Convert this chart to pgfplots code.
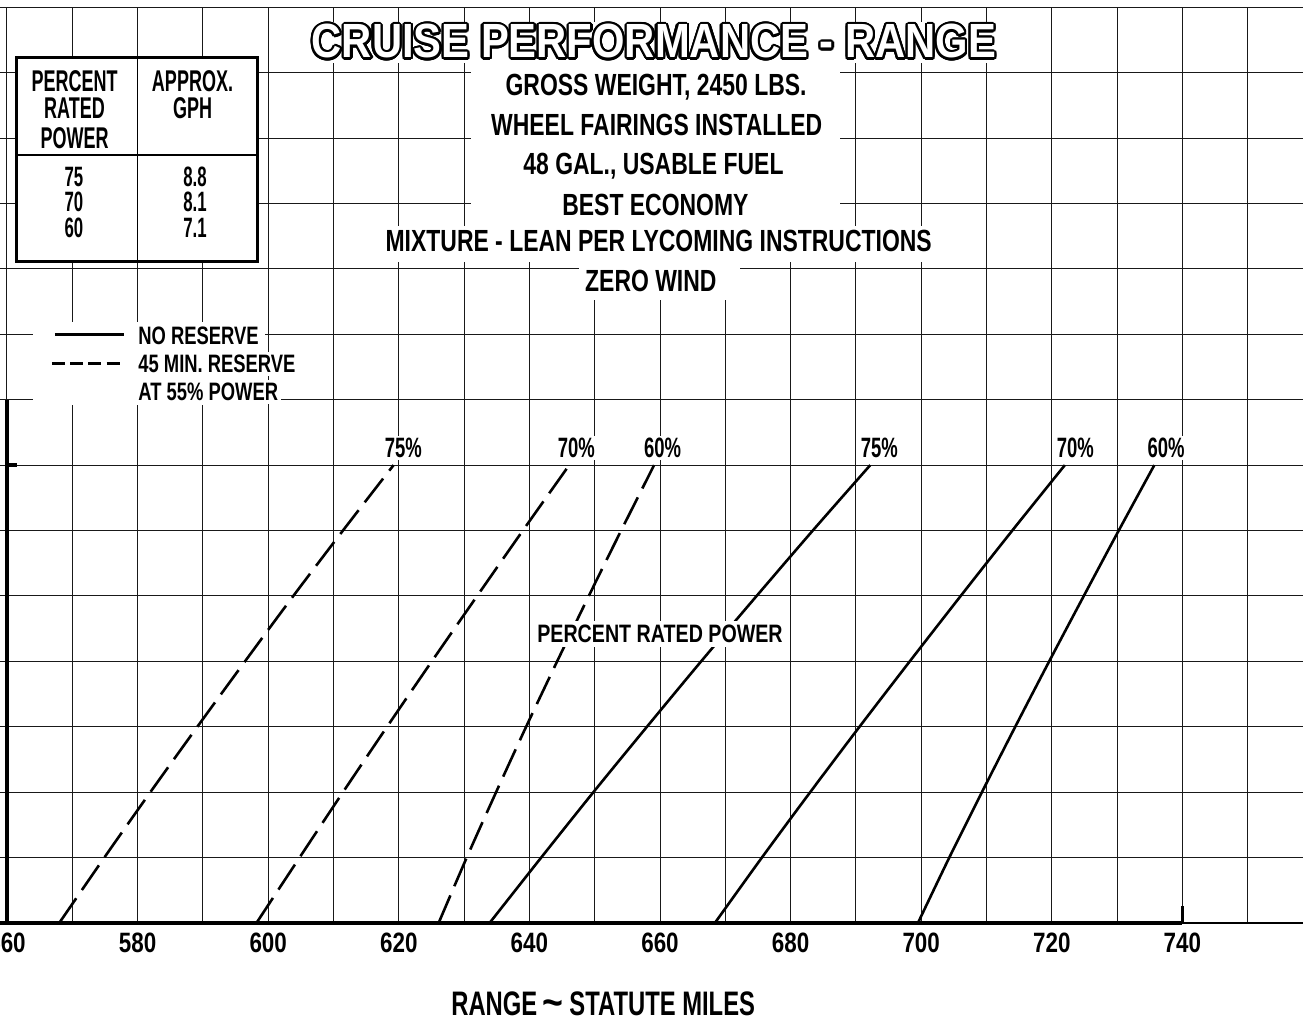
\documentclass[border=0pt]{standalone}
\usepackage{fontspec}
\setmainfont{Liberation Sans}
\usepackage{graphicx}
\usepackage{pgfplots}
\pgfplotsset{compat=1.18}
\usepackage[copies]{contour}
\contourlength{1.1pt}
\contournumber{24}
\newfontfamily\fTitle[FakeStretch=0.87]{Liberation Sans}
\newfontfamily\fSub[FakeStretch=0.75]{Liberation Sans}
\newfontfamily\fTab[FakeStretch=0.6]{Liberation Sans}
\newfontfamily\fTick[FakeStretch=0.8]{Liberation Sans}
\newfontfamily\fLab[FakeStretch=0.7]{Liberation Sans}
\newfontfamily\fLeg[FakeStretch=0.73]{Liberation Sans}
\newfontfamily\fPct[FakeStretch=0.78]{Liberation Sans}
\newfontfamily\fCurve[FakeStretch=0.66]{Liberation Sans}
\begin{document}
\begin{tikzpicture}
\begin{axis}[
  scale only axis, width=651.5pt, height=461.5pt,
  xmin=558.93, xmax=758.47, ymin=0, ymax=14.11,
  axis line style={draw=none},
  xtick={560,580,...,740},
  xticklabels={560,580,600,620,640,660,680,700,720,740},
  minor xtick={570,590,...,750},
  ytick={0,1,...,14}, yticklabel={},
  grid=both,
  major grid style={black!90, line width=0.5pt},
  minor grid style={black!90, line width=0.5pt},
  major tick length=0pt, minor tick length=0pt,
  xticklabel style={font=\fTick\bfseries\fontsize{14}{14}\selectfont, anchor=center, yshift=-10pt},
  clip=false,
]
% mask above the top grid line
\fill[white] (axis cs:558.93,14.01) rectangle (axis cs:758.47,14.2);
% thick axes
\draw[line width=1.6pt] (axis cs:558.93,0) -- (axis cs:740,0);
\draw[line width=1.0pt] (axis cs:740,0) -- (axis cs:758.47,0);
\draw[line width=1.6pt] (axis cs:740,0) -- (axis cs:740,0.26);
\draw[line width=1.6pt] (axis cs:560,0) -- (axis cs:560,8);
\draw[line width=1.6pt] (axis cs:560,7) -- (axis cs:561.6,7);
% white masks behind the heading block
\fill[white] (axis cs:605.64,13.15) rectangle (axis cs:712.53,13.78);
\fill[white] (axis cs:631.06,10.63) rectangle (axis cs:687.57,13.20);
\fill[white] (axis cs:617.58,10.11) rectangle (axis cs:702.11,10.66);
\fill[white] (axis cs:647.60,9.53) rectangle (axis cs:672.30,10.11);
% legend mask
\fill[white] (axis cs:563.98,7.92) rectangle (axis cs:599.51,9.19);
% table box
\fill[white] (axis cs:561.53,10.11) rectangle (axis cs:598.29,13.23);
\draw[line width=1.5pt] (axis cs:561.53,10.11) rectangle (axis cs:598.29,13.23);
\draw[line width=0.8pt] (axis cs:580.0,10.11) -- (axis cs:580.0,13.23);
\draw[line width=1.0pt] (axis cs:561.53,11.74) -- (axis cs:598.29,11.74);

% curves: 45 min reserve (dashed)
\addplot[black, line width=1.3pt, smooth, tension=0.5, dash pattern=on 15pt off 5pt]
  coordinates {(568.0,0) (574.9,1) (581.95,2) (589.15,3) (596.45,4) (603.85,5) (611.45,6) (619.2,7)};
\addplot[black, line width=1.3pt, smooth, tension=0.5, dash pattern=on 15pt off 5pt]
  coordinates {(598.2,0) (604.8,1) (611.45,2) (618.2,3) (625.05,4) (632.0,5) (639.0,6) (646.1,7)};
\addplot[black, line width=1.3pt, smooth, tension=0.5, dash pattern=on 15pt off 5pt]
  coordinates {(626.1,0) (630.4,1) (634.9,2) (639.5,3) (644.25,4) (649.1,5) (654.05,6) (659.1,7)};
% curves: no reserve (solid)
\addplot[black, line width=1.3pt, smooth, tension=0.5]
  coordinates {(633.9,0) (641.8,1) (649.8,2) (658.0,3) (666.3,4) (674.8,5) (683.4,6) (692.2,7)};
\addplot[black, line width=1.3pt, smooth, tension=0.5]
  coordinates {(668.4,0) (675.6,1) (683.0,2) (690.55,3) (698.25,4) (706.05,5) (713.95,6) (722.0,7)};
\addplot[black, line width=1.3pt, smooth, tension=0.5]
  coordinates {(699.5,0) (704.3,1) (709.3,2) (714.4,3) (719.6,4) (724.9,5) (730.25,6) (735.7,7)};

% legend samples
\draw[line width=1.5pt] (axis cs:567.35,8.99) -- (axis cs:577.92,8.99);
\draw[line width=1.5pt, dash pattern=on 6.5pt off 2.6pt] (axis cs:566.89,8.56) -- (axis cs:577.92,8.56);
\node[anchor=west, fill=white, inner xsep=1.5pt, inner ysep=1.5pt, font=\fLeg\bfseries\fontsize{12.6}{12.6}\selectfont] at (axis cs:579.6,8.976) {NO RESERVE};
\node[anchor=west, fill=white, inner xsep=1.5pt, inner ysep=1.5pt, font=\fLeg\bfseries\fontsize{12.6}{12.6}\selectfont] at (axis cs:579.6,8.55) {45 MIN. RESERVE};
\node[anchor=west, fill=white, inner xsep=1.5pt, inner ysep=1.5pt, font=\fLeg\bfseries\fontsize{12.6}{12.6}\selectfont] at (axis cs:579.6,8.12) {AT 55\% POWER};

% table text
\begin{scope}[every node/.style={font=\fTab\bfseries\fontsize{15}{15}\selectfont, inner sep=0pt}]
\node at (axis cs:570.34,12.87) {PERCENT};
\node at (axis cs:570.34,12.46) {RATED};
\node at (axis cs:570.34,12.00) {POWER};
\node at (axis cs:588.41,12.87) {APPROX.};
\node at (axis cs:588.41,12.46) {GPH};
\end{scope}
\begin{scope}[every node/.style={font=\fTab\bfseries\fontsize{14}{14}\selectfont, inner sep=0pt}]
\node at (axis cs:570.26,11.41) {75};
\node at (axis cs:570.26,11.02) {70};
\node at (axis cs:570.26,10.63) {60};
\node at (axis cs:588.8,11.41) {8.8};
\node at (axis cs:588.8,11.02) {8.1};
\node at (axis cs:588.8,10.63) {7.1};
\end{scope}

% title
\node[text=white, inner sep=0pt, font=\fTitle\bfseries\fontsize{24}{24}\selectfont] at (axis cs:659.08,13.46) {\contour{black}{CRUISE PERFORMANCE - RANGE}};
\begin{scope}[every node/.style={font=\fSub\bfseries\fontsize{15.3}{15.3}\selectfont, inner sep=1.5pt, fill=white}]
\node at (axis cs:659.4,12.78) {GROSS WEIGHT, 2450 LBS.};
\node at (axis cs:659.5,12.20) {WHEEL FAIRINGS INSTALLED};
\node at (axis cs:659.0,11.57) {48 GAL., USABLE FUEL};
\node at (axis cs:659.3,10.97) {BEST ECONOMY};
\node at (axis cs:659.8,10.42) {MIXTURE - LEAN PER LYCOMING INSTRUCTIONS};
\node at (axis cs:658.6,9.82) {ZERO WIND};
\end{scope}

% curve labels
\begin{scope}[every node/.style={font=\fCurve\bfseries\fontsize{14}{14}\selectfont, inner sep=1pt, fill=white}]
\node at (axis cs:620.7,7.26) {75\%};
\node at (axis cs:647.2,7.26) {70\%};
\node at (axis cs:660.4,7.26) {60\%};
\node at (axis cs:693.6,7.26) {75\%};
\node at (axis cs:723.6,7.26) {70\%};
\node at (axis cs:737.5,7.26) {60\%};
\end{scope}
\node[fill=white, inner sep=2pt, font=\fPct\bfseries\fontsize{12.6}{12.6}\selectfont] at (axis cs:660.0,4.42) {PERCENT RATED POWER};

% axis title
\node[font=\fLab\bfseries\fontsize{17}{17}\selectfont] at (axis cs:651.3,-1.24) {RANGE\,\raisebox{-0.1ex}{\scalebox{1.5}[1.2]{\textasciitilde}}\,STATUTE MILES};
\end{axis}
\pgfresetboundingbox
\path[use as bounding box] ([yshift=-47.5pt]current axis.south west) rectangle (current axis.north east);
\end{tikzpicture}
\end{document}
